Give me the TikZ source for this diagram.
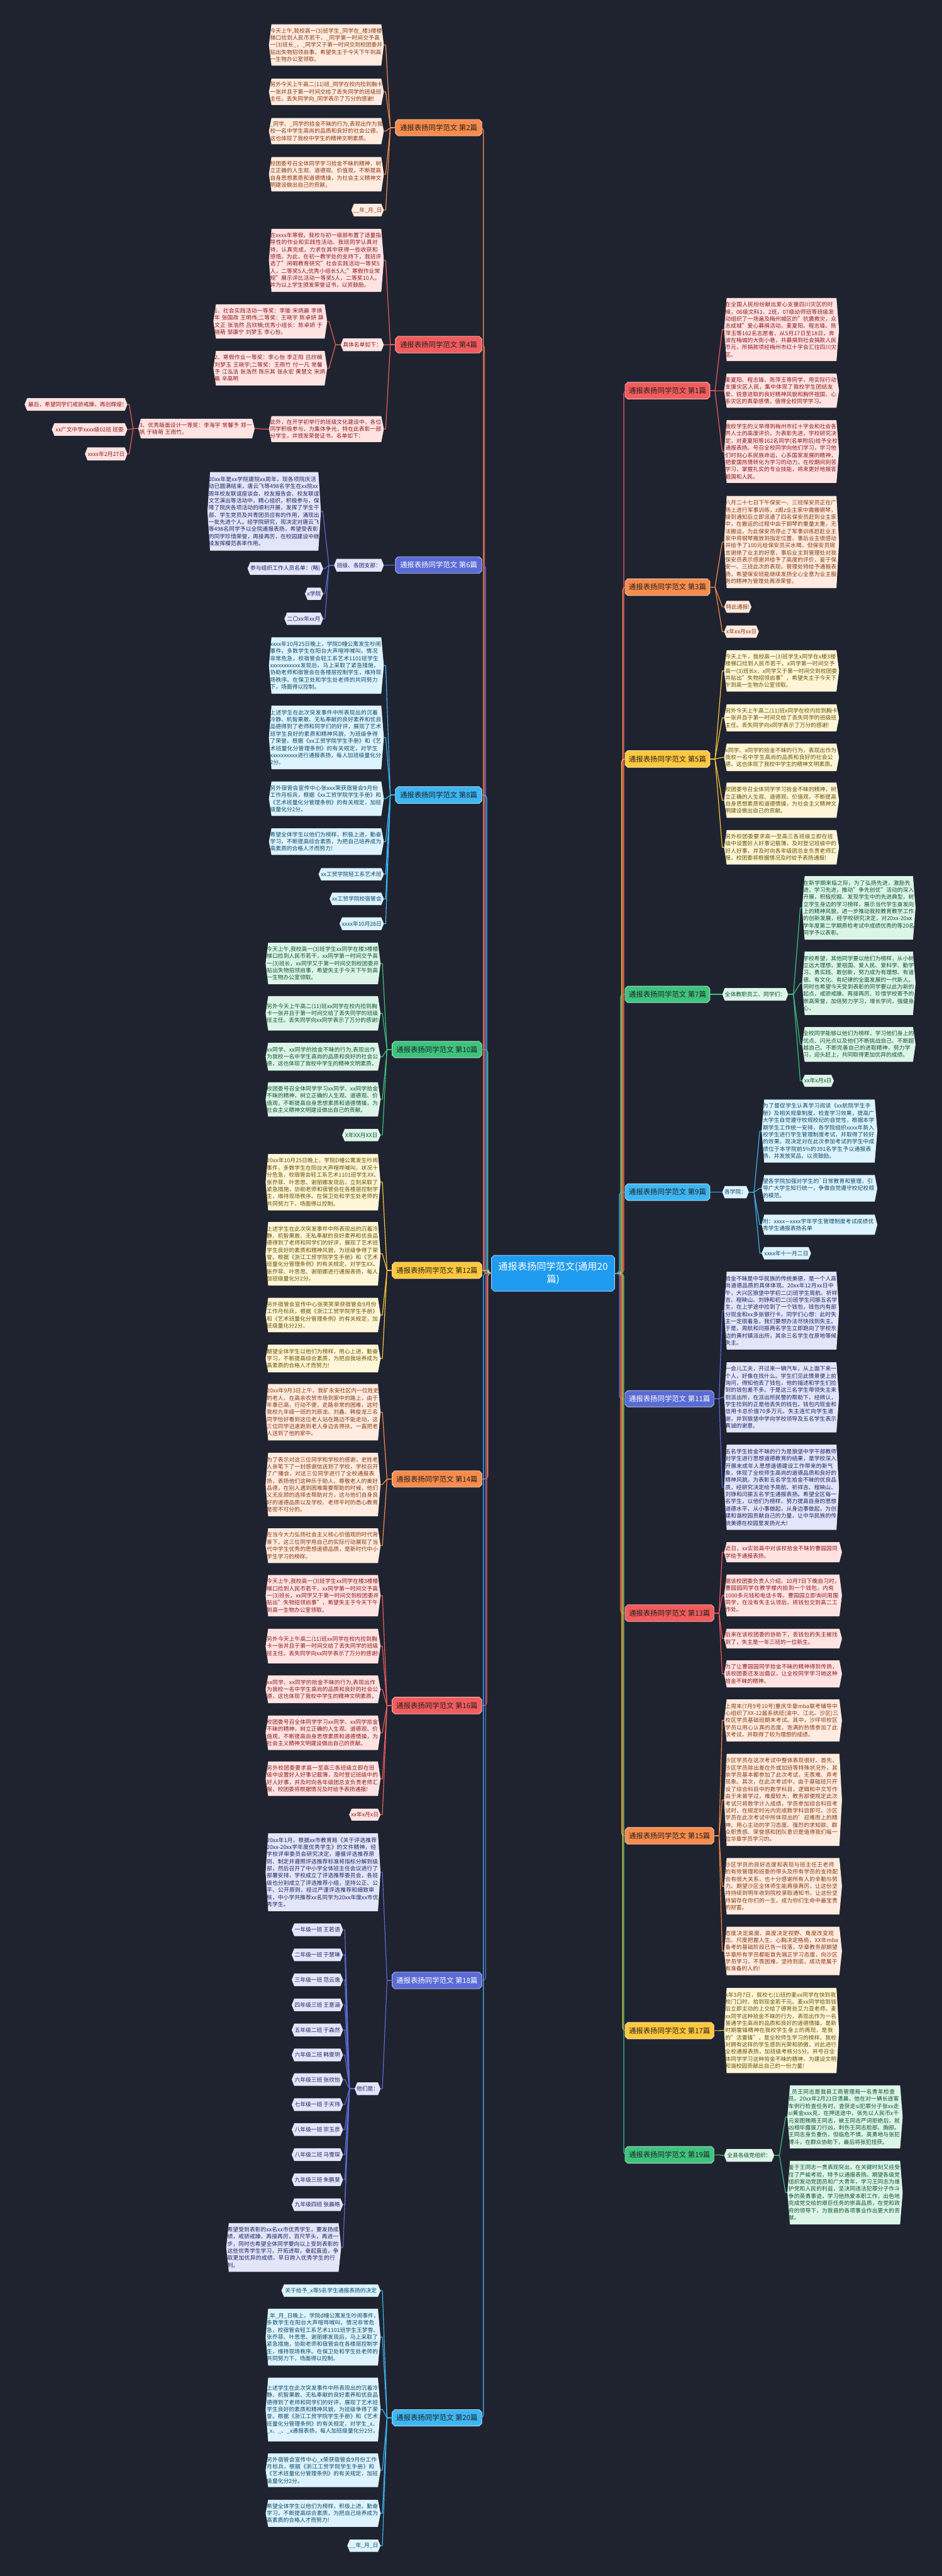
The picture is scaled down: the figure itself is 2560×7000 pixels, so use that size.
\documentclass[tikz,border=0pt]{standalone}
\usepackage{fontspec}
\setmainfont{Noto Sans CJK SC}
\XeTeXlinebreaklocale "zh"
\XeTeXlinebreakskip=0pt plus 1pt
\pgfdeclarelayer{bgl}
\pgfsetlayers{bgl,main}
\definecolor{bgc}{HTML}{1F2330}
\definecolor{Rmain}{HTML}{F25C5C}\definecolor{Rfill}{HTML}{FFE3E3}\definecolor{Rtext}{HTML}{8E1B1B}
\definecolor{Omain}{HTML}{F78C4C}\definecolor{Ofill}{HTML}{FFEBDF}\definecolor{Otext}{HTML}{8A3A12}
\definecolor{Ymain}{HTML}{FFC83D}\definecolor{Yfill}{HTML}{FFF6D8}\definecolor{Ytext}{HTML}{6A5100}
\definecolor{Imain}{HTML}{5A6BD5}\definecolor{Ifill}{HTML}{E3E6F8}\definecolor{Itext}{HTML}{1D2566}
\definecolor{Smain}{HTML}{3DB6F2}\definecolor{Sfill}{HTML}{DDF3FD}\definecolor{Stext}{HTML}{0C4A6B}
\definecolor{Gmain}{HTML}{3DC37E}\definecolor{Gfill}{HTML}{DDF5E8}\definecolor{Gtext}{HTML}{0E5430}
\definecolor{Cmain}{HTML}{1F9BF0}
\definecolor{btext}{HTML}{222222}
\newcommand\leaffont{\fontsize{15}{19.4}\selectfont}
\newcommand\brfont{\fontsize{19.5}{24}\selectfont}
\newcommand\cfont{\fontsize{26}{34}\selectfont}
\newcommand\hexfill[2]{\begin{pgfonlayer}{bgl}\fill[#2] ([xshift=7pt]#1.north west) -- ([xshift=-7pt]#1.north east) -- (#1.east) -- ([xshift=-7pt]#1.south east) -- ([xshift=7pt]#1.south west) -- (#1.west) -- cycle;\end{pgfonlayer}}
\newcommand\octfill[2]{\begin{pgfonlayer}{bgl}\filldraw[fill=#2,draw=white!55!#2,line width=1.5pt] ([xshift=7pt]#1.north west) -- ([xshift=-7pt]#1.north east) -- ([yshift=-7pt]#1.north east) -- ([yshift=7pt]#1.south east) -- ([xshift=-7pt]#1.south east) -- ([xshift=7pt]#1.south west) -- ([yshift=7pt]#1.south west) -- ([yshift=-7pt]#1.north west) -- cycle;\end{pgfonlayer}}
\newcommand\lf[7]{%
 \pgfmathsetmacro\lfx{(#2+#4)/2}\pgfmathsetmacro\lfy{(#3+#5)/2}%
 \pgfmathsetmacro\lfh{#5-#3}\pgfmathsetmacro\lftw{#4-#2-6}%
 \node[leaf,text=#6text,text width=\lftw pt,minimum height=\lfh pt] (#1) at (\lfx,\lfy) {#7};%
 \hexfill{#1}{#6fill}}
\newcommand\sn[7]{%
 \pgfmathsetmacro\lfx{(#2+#4)/2}\pgfmathsetmacro\lfy{(#3+#5)/2}%
 \pgfmathsetmacro\lfh{#5-#3}\pgfmathsetmacro\lfw{#4-#2}%
 \node[sleaf,text=#6text,minimum width=\lfw pt,minimum height=\lfh pt] (#1) at (\lfx,\lfy) {#7};%
 \hexfill{#1}{#6fill}}
\newcommand\br[8]{%
 \pgfmathsetmacro\lfx{(#2+#4)/2}\pgfmathsetmacro\lfy{(#3+#5)/2}%
 \pgfmathsetmacro\lfh{#5-#3}\pgfmathsetmacro\lfw{#4-#2}%
 \node[brn,text=#7,minimum width=\lfw pt,minimum height=\lfh pt] (#1) at (\lfx,\lfy) {#8};%
 \octfill{#1}{#6main}}
\newcommand\conL[3]{\draw[line width=2pt,draw=#3main,line join=round] (#1.west) -- ++(-14,0) -- ([xshift=5pt]#2.east) -- (#2.east);}
\newcommand\conR[3]{\draw[line width=2pt,draw=#3main,line join=round] (#1.east) -- ++(14,0) -- ([xshift=-5pt]#2.west) -- (#2.west);}
\newcommand\trL[3]{\draw[line width=2pt,draw=#3main,rounded corners=8pt] (C.west) -- ++(-#2,0) |- (#1.east);}
\newcommand\trR[3]{\draw[line width=2pt,draw=#3main,rounded corners=8pt] (C.east) -- ++(#2,0) |- (#1.west);}
\begin{document}
\begin{tikzpicture}[x=1pt,y=-1pt,
  leaf/.style={inner xsep=3pt,inner ysep=3pt,font=\leaffont,align=left},
  sleaf/.style={inner xsep=3pt,inner ysep=3pt,font=\leaffont,align=center},
  brn/.style={inner sep=4pt,font=\brfont,align=center}]
\begin{pgfonlayer}{bgl}\fill[bgc] (0,0) rectangle (2560,7000);\end{pgfonlayer}
\useasboundingbox (0,0) rectangle (2560,7000);

% ---------- center ----------
\node[brn,font=\cfont,text=white,minimum width=334pt,minimum height=97pt] (C) at (1503,3460) {通报表扬同学范文(通用20\\篇)};
\octfill{C}{Cmain}

% ---------- branches left ----------
\br{B2}{1075}{325}{1309}{369}{O}{btext}{通报表扬同学范文 第2篇}
\br{B4}{1075}{914}{1309}{959}{R}{btext}{通报表扬同学范文 第4篇}
\br{B6}{1075}{1513}{1309}{1558}{I}{white}{通报表扬同学范文 第6篇}
\br{B8}{1075}{2138}{1309}{2183}{S}{btext}{通报表扬同学范文 第8篇}
\br{B10}{1066}{2830}{1309}{2874}{G}{btext}{通报表扬同学范文 第10篇}
\br{B12}{1066}{3430}{1309}{3474}{Y}{btext}{通报表扬同学范文 第12篇}
\br{B14}{1066}{3997}{1309}{4041}{O}{btext}{通报表扬同学范文 第14篇}
\br{B16}{1066}{4612}{1309}{4657}{R}{btext}{通报表扬同学范文 第16篇}
\br{B18}{1066}{5359}{1309}{5404}{I}{white}{通报表扬同学范文 第18篇}
\br{B20}{1066}{6548}{1309}{6592}{S}{btext}{通报表扬同学范文 第20篇}
% ---------- branches right ----------
\br{B1}{1699}{1039}{1929}{1084}{R}{btext}{通报表扬同学范文 第1篇}
\br{B3}{1699}{1573}{1929}{1618}{O}{btext}{通报表扬同学范文 第3篇}
\br{B5}{1699}{2040}{1929}{2085}{Y}{btext}{通报表扬同学范文 第5篇}
\br{B7}{1699}{2680}{1929}{2724}{G}{btext}{通报表扬同学范文 第7篇}
\br{B9}{1699}{3217}{1929}{3262}{S}{btext}{通报表扬同学范文 第9篇}
\br{B11}{1699}{3779}{1940}{3823}{I}{white}{通报表扬同学范文 第11篇}
\br{B13}{1699}{4361}{1940}{4406}{R}{btext}{通报表扬同学范文 第13篇}
\br{B15}{1699}{4966}{1940}{5011}{O}{btext}{通报表扬同学范文 第15篇}
\br{B17}{1699}{5496}{1940}{5540}{Y}{btext}{通报表扬同学范文 第17篇}
\br{B19}{1699}{5833}{1940}{5878}{G}{btext}{通报表扬同学范文 第19篇}

% ---------- trunk ----------
\trL{B2}{22}{O}\trL{B4}{19}{R}\trL{B6}{16}{I}\trL{B8}{13}{S}\trL{B10}{10}{G}
\trL{B12}{8}{Y}\trL{B14}{10}{O}\trL{B16}{13}{R}\trL{B18}{16}{I}\trL{B20}{22}{S}
\trR{B1}{25}{R}\trR{B3}{22}{O}\trR{B5}{19}{Y}\trR{B7}{16}{G}\trR{B9}{13}{S}
\trR{B11}{13}{I}\trR{B13}{16}{R}\trR{B15}{19}{O}\trR{B17}{22}{Y}\trR{B19}{25}{G}

% ---------- 第2篇 ----------
\lf{L2a}{731}{66}{1043}{178}{O}{今天上午,我校高一(3)班学生\_同学在\_楼3楼楼梯口捡到人民币若干，\_同学第一时间交予高一(3)班长\_，\_同学又于第一时间交到校团委并贴出失物招领启事，希望失主于今天下午到高一生物办公室领取。}
\lf{L2b}{731}{214}{1043}{285}{O}{另外今天上午高二(11)班\_同学在校内捡到胸卡一张并且于第一时间交给了丢失同学的班级班主任。丢失同学向\_同学表示了万分的感谢!}
\lf{L2c}{731}{321}{1043}{392}{O}{\_同学、\_同学的拾金不昧的行为,表现出作为我校一名中学生高尚的品质和良好的社会公德，这也体现了我校中学生的精神文明素质。}
\lf{L2d}{731}{427}{1043}{520}{O}{校团委号召全体同学学习拾金不昧的精神，树立正确的人生观、道德观、价值观，不断提高自身思想素质和道德情操，为社会主义精神文明建设做出自己的贡献。}
\sn{L2e}{955}{554}{1043}{588}{O}{\_\_年\_月\_日}
\foreach \q in {L2a,L2b,L2c,L2d,L2e} {\conL{B2}{\q}{O}}

% ---------- 第4篇 ----------
\lf{L4a}{731}{622}{1043}{793}{R}{在xxxx年寒假，我校与初一级部布置了适量指导性的作业和实践性活动。我班同学认真对待，认真完成，力求在其中获得一些收获和感悟。为此，在初一教学处的支持下，我班评选了"闲暇教育研究"社会实践活动一等奖5人，二等奖5人;优秀小组长5人;"寒假作业常规"展示评比活动一等奖5人，二等奖10人。并为以上学生颁发荣誉证书，以资鼓励。}
\sn{L4b}{926}{920}{1043}{954}{R}{具体名单如下：}
\lf{L4b1}{580}{827}{889}{920}{R}{1、社会实践活动一等奖：李璇 宋炳晨 李焕年 张国政 王明伟;二等奖：王晓宇 陈卓妍 薛文正 张浩然 吕欣楠;优秀小组长：陈卓妍 于晓萌 邹康宁 刘梦玉 李心怡。}
\lf{L4b2}{580}{954}{889}{1047}{R}{2、寒假作业一等奖：李心怡 李正阳 吕欣楠 刘梦玉 王晓宇;二等奖：王雨竹 付一凡 常馨予 江泓洁 张浩然 陈乐其 张永宏 黄慧文 宋炳晨 辛高明}
\lf{L4c}{731}{1131}{1043}{1201}{R}{此外，在开学初举行的班级文化建设中，各位同学积极参与，为集体争光，特在此表彰一部分学生，并颁发荣誉证书，名单如下：}
\lf{L4c1}{376}{1138}{692}{1191}{R}{3、优秀版面设计一等奖：李海宇 常馨予 郑一帆 于晓萌 王雨竹。}
\sn{L4c1a}{67}{1082}{346}{1116}{R}{最后，希望同学们戒骄戒躁，再创辉煌!}
\sn{L4c1b}{141}{1150}{346}{1184}{R}{xx广文中学xxxx级02班 班委}
\sn{L4c1c}{231}{1216}{346}{1251}{R}{xxxx年2月27日}
\foreach \q in {L4a,L4b,L4c} {\conL{B4}{\q}{R}}
\foreach \q in {L4b1,L4b2} {\conL{L4b}{\q}{R}}
\conL{L4c}{L4c1}{R}
\foreach \q in {L4c1a,L4c1b,L4c1c} {\conL{L4c1}{\q}{R}}

% ---------- 第6篇 ----------
\sn{L6}{908}{1519}{1043}{1553}{I}{班级、各团支部：}
\lf{L6a}{564}{1283}{872}{1496}{I}{20xx年是xx学院建院xx周年，现各项院庆活动已圆满结束，唐云飞等498名学生在xx院xx周年校友联谊座谈会、校友报告会、校友联谊文艺演出等活动中，精心组织，积极参与，保障了院庆各项活动的顺利开展，发挥了学生干部、学生党员及共青团员应有的作用，涌现出一批先进个人。经学院研究，现决定对唐云飞等498名同学予以全院通报表扬，希望受表彰的同学珍惜荣誉，再接再厉，在校园建设中继续发挥模范表率作用。}
\sn{L6b}{673}{1528}{878}{1562}{I}{参与组织工作人员名单：(略)}
\sn{L6c}{829}{1597}{878}{1630}{I}{x学院}
\sn{L6d}{773}{1665}{878}{1698}{I}{二〇xx年xx月}
\conL{B6}{L6}{I}
\foreach \q in {L6a,L6b,L6c,L6d} {\conL{L6}{\q}{I}}

% ---------- 第8篇 ----------
\lf{L8a}{731}{1732}{1043}{1885}{S}{xxxx年10月25日晚上，学院D幢公寓发生吵闹事件，多数学生在阳台大声喧哗喊叫，情况非常危急，校宿管会轻工系艺术1101班学生xxxxxxxxxxx发现后，马上采取了紧急措施，协助老师和宿管会在各楼层控制学生，维持现场秩序。在保卫处和学生处老师的共同努力下，场面得以控制。}
\lf{L8b}{731}{1918}{1043}{2090}{S}{上述学生在此次突发事件中所表现出的沉着冷静、机智果敢、无私奉献的良好素养和优良品德得到了老师和同学们的好评，展现了艺术班学生良好的素质和精神风貌，为班级争得了荣誉。根据《xx工贸学院学生手册》和《艺术班量化分管理条例》的有关规定，对学生xxxxxxxxxx进行通报表扬，每人加班级量化分2分。}
\lf{L8c}{731}{2124}{1043}{2217}{S}{另外宿管会宣传中心张xxx荣获宿管会9月份工作月标兵，根据《xx工贸学院学生手册》和《艺术班量化分管理条例》的有关规定，加班级量化分2分。}
\lf{L8d}{731}{2251}{1043}{2323}{S}{希望全体学生以他们为榜样，积极上进，勤奋学习，不断提高综合素质，为把自己培养成为高素质的合格人才而努力!}
\sn{L8e}{866}{2359}{1043}{2392}{S}{xx工贸学院轻工系艺术班}
\sn{L8f}{896}{2426}{1043}{2459}{S}{xx工贸学院校宿管会}
\sn{L8g}{923}{2493}{1043}{2527}{S}{xxxx年10月28日}
\foreach \q in {L8a,L8b,L8c,L8d,L8e,L8f,L8g} {\conL{B8}{\q}{S}}

% ---------- 第10篇 ----------
\lf{L10a}{722}{2562}{1034}{2674}{G}{今天上午,我校高一(3)班学生xx同学在楼3楼楼梯口捡到人民币若干，xx同学第一时间交予高一(3)班长，xx同学又于第一时间交到校团委并贴出失物招领启事，希望失主于今天下午到高一生物办公室领取。}
\lf{L10b}{722}{2707}{1034}{2800}{G}{另外今天上午高二(11)班xx同学在校内捡到胸卡一张并且于第一时间交给了丢失同学的班级班主任。丢失同学向xx同学表示了万分的感谢!}
\lf{L10c}{722}{2834}{1034}{2909}{G}{xx同学、xx同学的拾金不昧的行为,表现出作为我校一名中学生高尚的品质和良好的社会公德，这也体现了我校中学生的精神文明素质。}
\lf{L10d}{722}{2941}{1034}{3034}{G}{校团委号召全体同学学习xx同学、xx同学拾金不昧的精神，树立正确的人生观、道德观、价值观，不断提高自身思想素质和道德情操，为社会主义精神文明建设做出自己的贡献。}
\sn{L10e}{930}{3068}{1034}{3101}{G}{X年XX月XX日}
\foreach \q in {L10a,L10b,L10c,L10d,L10e} {\conL{B10}{\q}{G}}

% ---------- 第12篇 ----------
\lf{L12a}{722}{3136}{1034}{3289}{Y}{20xx年10月25日晚上，学院D幢公寓发生吵闹事件，多数学生在阳台大声喧哗喊叫，状况十分危急，校宿管会轻工系艺术1101班学生XX、张乔菲、叶思思、谢丽娜发现后，立刻采取了紧急措施，协助老师和宿管会在各楼层控制学生，维持现场秩序。在保卫处和学生处老师的共同努力下，场面得以控制。}
\lf{L12b}{722}{3321}{1034}{3493}{Y}{上述学生在此次突发事件中所表现出的沉着冷静、机智果敢、无私奉献的良好素养和优良品德得到了老师和同学们的好评，展现了艺术班学生良好的素质和精神风貌，为班级争得了荣誉。根据《浙江工贸学院学生手册》和《艺术班量化分管理条例》的有关规定，对学生XX、张乔菲、叶思思、谢丽娜进行通报表扬，每人加班级量化分2分。}
\lf{L12c}{722}{3527}{1034}{3620}{Y}{另外宿管会宣传中心张笑笑荣获宿管会9月份工作月标兵，根据《浙江工贸学院学生手册》和《艺术班量化分管理条例》的有关规定，加班级量化分2分。}
\lf{L12d}{722}{3654}{1034}{3729}{Y}{期望全体学生以他们为榜样，用心上进，勤奋学习，不断提高综合素质，为把自我培养成为高素质的合格人才而努力!}
\foreach \q in {L12a,L12b,L12c,L12d} {\conL{B12}{\q}{Y}}

% ---------- 第14篇 ----------
\lf{L14a}{722}{3761}{1034}{3914}{O}{20xx年9月3日上午，我矿永安社区内一位姓史的老人，在高余农贸市场到家中的路上，由于年事已高，行动不便，走路非常的困难，这时我校九年级一班的刘辰龙、刘鑫、韩俊龙三名同学恰好看到这位老人站在路边不能走动，这三位同学迅速跑到老人身边去搀扶，一直把老人送到了他的家中。}
\lf{L14b}{722}{3948}{1034}{4120}{O}{为了表示对这三位同学和学校的感谢，史姓老人亲笔下了一封感谢信送到了学校，学校召开了广播会，对这三位同学进行了全校通报表扬，表扬他们这种乐于助人、尊敬老人的美好品德，在别人遇到困难需要帮助的时候，他们义无反顾的选择去帮助对方，这与他们自身良好的道德品质以及学校、老师平时的悉心教育是密不可分的。}
\lf{L14c}{722}{4153}{1034}{4247}{O}{在当今大力弘扬社会主义核心价值观的时代背景下，这三位同学用自己的实际行动展现了当代中学生优秀的思想道德品质，是新时代中小学生学习的榜样。}
\foreach \q in {L14a,L14b,L14c} {\conL{B14}{\q}{O}}

% ---------- 第16篇 ----------
\lf{L16a}{722}{4280}{1034}{4392}{R}{今天上午,我校高一(3)班学生xx同学在楼3楼楼梯口捡到人民币若干，xx同学第一时间交予高一(3)班长，xx同学又于第一时间交到校团委并贴出"失物招领启事"，希望失主于今天下午到高一生物办公室领取。}
\lf{L16b}{722}{4426}{1034}{4520}{R}{另外今天上午高二(11)班xx同学在校内捡到胸卡一张并且于第一时间交给了丢失同学的班级班主任。丢失同学向xx同学表示了万分的感谢!}
\lf{L16c}{722}{4553}{1034}{4628}{R}{xx同学、xx同学的拾金不昧的行为,表现出作为我校一名中学生高尚的品质和良好的社会公德，这也体现了我校中学生的精神文明素质。}
\lf{L16d}{722}{4662}{1034}{4755}{R}{校团委号召全体同学学习xx同学、xx同学拾金不昧的精神，树立正确的人生观、道德观、价值观，不断提高自身思想素质和道德情操，为社会主义精神文明建设做出自己的贡献。}
\lf{L16e}{722}{4787}{1034}{4880}{R}{另外校团委要求高一至高三各班级立即在班级中设置好人好事记载簿，及时登记班级中的好人好事，并及时向各年级团总支负责老师汇报，校团委将根据情况及时给予表扬通报!}
\sn{L16f}{949}{4915}{1034}{4947}{R}{xx年x月x日}
\foreach \q in {L16a,L16b,L16c,L16d,L16e,L16f} {\conL{B16}{\q}{R}}

% ---------- 第18篇 ----------
\lf{L18a}{722}{4982}{1034}{5193}{I}{20xx年1月，根据xx市教育局《关于评选推荐20xx-20xx学年度优秀学生》的文件精神，经学校评审委员会研究决定，遵循评选推荐原则、制定并遵照评选推荐标准将指标分解到级部，然后召开了中小学全体班主任会议进行了部署安排，学校成立了评选推荐委员会，各班级也分别成立了评选推荐小组，坚持公正、公平、公开原则，经过严谨评选推荐和细致审核，中小学共推荐xx名同学为20xx年度xx市优秀学生。}
\sn{L18b}{964}{5659}{1034}{5693}{I}{他们是：}
\sn{N1}{793}{5227}{932}{5261}{I}{一年级一班 王若语}
\sn{N2}{793}{5295}{932}{5329}{I}{二年级一班 于慧琳}
\sn{N3}{793}{5363}{932}{5397}{I}{三年级一班 范云逸}
\sn{N4}{793}{5431}{932}{5465}{I}{四年级三班 王意涵}
\sn{N5}{793}{5499}{932}{5533}{I}{五年级二班 于森然}
\sn{N6}{793}{5567}{932}{5601}{I}{六年级二班 韩雯玥}
\sn{N7}{793}{5634}{932}{5668}{I}{六年级三班 张欣怡}
\sn{N8}{793}{5702}{932}{5736}{I}{七年级一班 于天玮}
\sn{N9}{793}{5770}{932}{5804}{I}{八年级一班 宗玉彦}
\sn{N10}{793}{5838}{932}{5872}{I}{八年级二班 马雪琛}
\sn{N11}{793}{5906}{932}{5940}{I}{九年级三班 朱鹏斐}
\sn{N12}{793}{5974}{932}{6008}{I}{九年级四班 张晨皓}
\lf{L18z}{615}{6041}{927}{6173}{I}{希望受到表彰的xx名xx市优秀学生，要发扬成绩，戒骄戒躁，再接再厉，百尺竿头，再进一步，同时也希望全体同学要向以上受到表彰的这些优秀学生学习，开拓进取，奋起直追，争取更加优异的成绩，早日跨入优秀学生的行列。}
\foreach \q in {L18a,L18b} {\conL{B18}{\q}{I}}
\foreach \q in {N1,N2,N3,N4,N5,N6,N7,N8,N9,N10,N11,N12,L18z} {\conL{L18b}{\q}{I}}

% ---------- 第20篇 ----------
\sn{L20a}{765}{6208}{1034}{6241}{S}{关于给予\_x等5名学生通报表扬的决定}
\lf{L20b}{722}{6274}{1034}{6428}{S}{\_年\_月\_日晚上，学院d幢公寓发生吵闹事件，多数学生在阳台大声喧哗喊叫，情况非常危急，校宿管会轻工系艺术1101班学生王梦雪、张乔菲、叶思思、谢丽娜发现后，马上采取了紧急措施，协助老师和宿管会在各楼层控制学生，维持现场秩序。在保卫处和学生处老师的共同努力下，场面得以控制。}
\lf{L20c}{722}{6461}{1034}{6634}{S}{上述学生在此次突发事件中所表现出的沉着冷静、机智果敢、无私奉献的良好素养和优良品德得到了老师和同学们的好评，展现了艺术班学生良好的素质和精神风貌，为班级争得了荣誉。根据《浙江工贸学院学生手册》和《艺术班量化分管理条例》的有关规定，对学生\_x、\_x、\_、\_x通报表扬，每人加班级量化分2分。}
\lf{L20d}{722}{6667}{1034}{6758}{S}{另外宿管会宣传中心\_x荣获宿管会9月份工作月标兵，根据《浙江工贸学院学生手册》和《艺术班量化分管理条例》的有关规定，加班级量化分2分。}
\lf{L20e}{722}{6793}{1034}{6866}{S}{希望全体学生以他们为榜样，积极上进，勤奋学习，不断提高综合素质，为把自己培养成为高素质的合格人才而努力!}
\sn{L20f}{944}{6901}{1034}{6934}{S}{\_\_年\_月\_日}
\foreach \q in {L20a,L20b,L20c,L20d,L20e,L20f} {\conL{B20}{\q}{S}}

% ---------- 第1篇 ----------
\lf{R1a}{1968}{810}{2280}{981}{R}{在全国人民纷纷献出爱心支援四川灾区的时候，06级文科1、2班，07级幼师班等班级发动组织了一场遍及梅州城区的"抗震救灾，众志成城"爱心募捐活动，麦夏阳、程志锋、陈萍玉等162名志愿者，从5月17日至18日，奔波在梅城的大街小巷，共募捐到社会捐款人民币元，所捐款项经梅州市红十字会汇往四川灾区。}
\lf{R1b}{1968}{1015}{2280}{1108}{R}{麦夏阳、程志锋、陈萍玉等同学，用实际行动支援灾区人民，集中体现了我校学生团结友爱、锐意进取的良好精神风貌和胸怀祖国、心系灾区的真挚感情，值得全校同学学习。}
\lf{R1c}{1968}{1142}{2280}{1312}{R}{我校学生的义举得到梅州市红十字会和社会各界人士的高度评价。为表彰先进，学校研究决定，对麦夏阳等162名同学(名单附后)给予全校通报表扬。号召全校同学向他们学习，学习他们时刻心系民族命运，心系国家发展的精神，把爱国热情转化为学习的动力，在校期间刻苦学习，掌握扎实的专业技能，将来更好地报答祖国和人民。}
\foreach \q in {R1a,R1b,R1c} {\conR{B1}{\q}{R}}

% ---------- 第3篇 ----------
\lf{R3a}{1968}{1348}{2280}{1598}{O}{八月二十七日下午保安一、三班保安员正在广场上进行军事训练，z阁z业主家中需搬钢琴，接到通知后立即派遣了四名保安员赶到业主家中，在搬运的过程中由于钢琴的重量太重，无法搬运，为此保安员停止了军事训练赶赴业主家中将钢琴搬放到指定位置，事后业主很感动并给予了100元给保安员买水喝，但保安员婉言谢绝了业主的好意，事后业主到管理处对我保安员表示感谢并给予了高度的评价，鉴于保安一、三班此次的表现，管理处特给予通报表扬，希望保安班能继续发扬全心全意为业主服务的精神为管理处再添荣誉。}
\sn{R3b}{1968}{1633}{2042}{1665}{O}{特此通报!}
\sn{R3c}{1968}{1700}{2062}{1733}{O}{x年xx月xx日}
\foreach \q in {R3a,R3b,R3c} {\conR{B3}{\q}{O}}

% ---------- 第5篇 ----------
\lf{R5a}{1968}{1767}{2280}{1879}{Y}{今天上午，我校高一(3)班学生x同学在x楼3楼楼梯口捡到人民币若干，x同学第一时间交予高一(3)班长x，x同学又于第一时间交到校团委并贴出"失物招领启事"，希望失主于今天下午到高一生物办公室领取。}
\lf{R5b}{1968}{1914}{2280}{1987}{Y}{另外今天上午高二(11)班x同学在校内捡到胸卡一张并且于第一时间交给了丢失同学的班级班主任。丢失同学向x同学表示了万分的感谢!}
\lf{R5c}{1968}{2021}{2280}{2095}{Y}{x同学、x同学的拾金不昧的行为，表现出作为我校一名中学生高尚的品质和良好的社会公德，这也体现了我校中学生的精神文明素质。}
\lf{R5d}{1968}{2127}{2280}{2222}{Y}{校团委号召全体同学学习拾金不昧的精神，树立正确的人生观、道德观、价值观，不断提高自身思想素质和道德情操，为社会主义精神文明建设做出自己的贡献。}
\lf{R5e}{1968}{2256}{2280}{2349}{Y}{另外校团委要求高一至高三各班级立即在班级中设置好人好事记载簿，及时登记班级中的好人好事，并及时向各年级团总支负责老师汇报，校团委将根据情况及时给予表扬通报!}
\foreach \q in {R5a,R5b,R5c,R5d,R5e} {\conR{B5}{\q}{Y}}

% ---------- 第7篇 ----------
\sn{R7}{1963}{2685}{2142}{2719}{G}{全体教职员工、同学们：}
\lf{R7a}{2180}{2381}{2488}{2553}{G}{在新学期来临之际，为了弘扬先进，激励先进，学习先进，推动"争先创优"活动的深入开展，积极挖掘、发现学生中的先进典型，树立学生身边的学习榜样，展示当代学生奋发向上的精神风貌，进一步推动我校教育教学工作的创新发展，经学校研究决定，对20xx-20xx学年度第二学期质检考试中成绩优秀的等20名同学予以表彰。}
\lf{R7b}{2180}{2586}{2488}{2758}{G}{学校希望，其他同学要以他们为榜样，从小树立远大理想，爱祖国、爱人民、爱科学、勤学习、勇实践、敢创新，努力成为有理想、有道德、有文化、有纪律的全面发展的一代新人。同时也希望今天受到表彰的同学要以此为新的起点，戒骄戒躁、再接再厉、珍惜学校寄予的崇高荣誉，加倍努力学习，增长学问，强健身心，}
\lf{R7c}{2180}{2791}{2488}{2885}{G}{全校同学能够以他们为榜样，学习他们身上的优点、闪光点以及他们不断挑战自己、不断超越自己、不断完善自己的进取精神，努力学习，迎头赶上，共同取得更加优异的成绩。}
\sn{R7d}{2180}{2921}{2266}{2953}{G}{xx年x月x日}
\conR{B7}{R7}{G}
\foreach \q in {R7a,R7b,R7c,R7d} {\conR{R7}{\q}{G}}

% ---------- 第9篇 ----------
\sn{R9}{1963}{3223}{2035}{3256}{S}{各学院：}
\lf{R9a}{2070}{2988}{2384}{3159}{S}{为了督促学生认真学习阅读《xx航院学生手册》及相关规章制度，检查学习效果，提高广大学生自觉遵守校规校纪的自觉性，根据本学期学生工作统一安排，各学院组织xxxx年新入校学生进行学生管理制度考试，并取得了较好的效果。现决定对在此次参加考试的学生中成绩位于本学院前5\%的391名学生予以通报表扬，并发放奖品，以资鼓励。}
\lf{R9b}{2070}{3193}{2384}{3265}{S}{望各学院加强对学生的\textasciigrave 日常教育和管理，引导广大学生知行统一，争做自觉遵守校纪校规的模范。}
\lf{R9c}{2070}{3301}{2384}{3355}{S}{附：xxxx—xxxx学年学生管理制度考试成绩优秀学生通报表扬名单}
\sn{R9d}{2070}{3389}{2204}{3422}{S}{xxxx年十一月二日}
\conR{B9}{R9}{S}
\foreach \q in {R9a,R9b,R9c,R9d} {\conR{R9}{\q}{S}}

% ---------- 第11篇 ----------
\lf{R11a}{1968}{3456}{2280}{3667}{I}{拾金不昧是中华民族的传统美德，是一个人高尚道德品质的具体体现。20xx年12月xx日中午，大兴区狼垡中学初二(2)班学生周航、祈祥吉、程映山、刘铮和初二(3)班学生闫振五名学生，在上学途中捡到了一个钱包，钱包内有部分现金和xx多张银行卡。同学们心想：此时失主一定很着急，我们要想办法尽快找到失主。于是，周航和闫振两名学生立即跑向了学校东边的黄村镇派出所，其余三名学生在原地等候失主。}
\lf{R11b}{1968}{3702}{2280}{3892}{I}{一会儿工夫，开过来一辆汽车，从上面下来一个人，好像在找什么。学生们见此情景便上前询问，得知他丢了钱包，他的描述和学生们捡到的钱包差不多。于是这三名学生带领失主来到派出所，在派出所民警的帮助下，经辨认，学生捡到的正是他丢失的钱包，钱包内现金和信用卡总价值70多万元，失主连忙向学生道谢，并到狼垡中学向学校领导及五名学生表示真诚的谢意。}
\lf{R11c}{1968}{3926}{2280}{4157}{I}{五名学生拾金不昧的行为是狼垡中学干部教师对学生进行思想道德教育的结果，是学校深入开展未成年人思想道德建设工作带来的新气象，体现了全校师生高尚的道德品质和良好的精神风貌。为表彰五名学生拾金不昧的优良品质，经研究决定给予周航、祈祥吉、程映山、刘铮和闫振五名学生通报表扬。希望全区每一名学生，以他们为榜样，努力提高自身的思想道德水平，从小事做起，从身边事做起，为创建和谐校园贡献自己的力量，让中华民族的传统美德在校园里发扬光大!}
\foreach \q in {R11a,R11b,R11c} {\conR{B11}{\q}{I}}

% ---------- 第13篇 ----------
\lf{R13a}{1968}{4191}{2288}{4245}{R}{近日，xx实验高中对该校拾金不昧的曹园园同学给予通报表扬。}
\lf{R13b}{1968}{4279}{2288}{4392}{R}{据该校团委负责人介绍，10月7日下晚自习时，曹园园同学在教学楼内拾到一个钱包，内有1000多元钱和电话卡等。曹园园立即询问周围同学，在没有失主认领后，将钱包交到高二工作处。}
\lf{R13c}{1968}{4426}{2288}{4479}{R}{后来在该校团委的协助下，丢钱包的失主被找到了，失主是一年三班的一位新生。}
\lf{R13d}{1968}{4512}{2288}{4585}{R}{为了让曹园园同学拾金不昧的精神得到传扬，该校团委还发出倡议，让全校同学学习她这种拾金不昧的精神。}
\foreach \q in {R13a,R13b,R13c,R13d} {\conR{B13}{\q}{R}}

% ---------- 第15篇 ----------
\lf{R15a}{1968}{4618}{2288}{4732}{O}{上周末(7月9号10号)重庆华章mba联考辅导中心组织了XX-12届系统班(渝中、江北、沙区)三校区学员基础班期末考试。其中，沙坪坝校区学员以用心认真的态度，饱满的热情参加了此次考试，并取得了较为理想的成绩。}
\lf{R15b}{1968}{4766}{2288}{5016}{O}{沙区学员在这次考试中整体表现很好。首先，沙区学员除出差在外或加班等特殊状况外，其余学员基本都参加了此次考试，无畏难、弃考现象。其次，在此次考试中，由于基础班只开设了综合科目中的数学科目，逻辑和中文写作由于未曾学过，难度较大，教务部便规定此次考试只将数学计入成绩，学员参加综合科目考试时，在规定时光内完成数学科目即可。沙区学员在此次考试中所体现出的'迎难而上的精神、用心主动的学习态度、强烈的求知欲、群众职责感、荣誉感和团队意识是值得我们每一位华章学员学习的。}
\lf{R15c}{1968}{5049}{2288}{5202}{O}{沙区学员的良好态度和表现与班主任王老师的有效管理和班委的带头及所有学员的支持配合有很大关系，也十分感谢所有人的辛勤与努力。期望沙区全体师生能再接再厉，让这份坚持持续到明年收到院校录取通知书，让这份坚持留存在你们的一生，成为你们生命中最宝贵的财富。}
\lf{R15d}{1968}{5236}{2288}{5367}{O}{态度决定高度、高度决定视野、角度改变观念、尺度把握人生、心胸决定格局，XX年mba备考的基础阶段已告一段落，华章教务部期望华章所有学员都能首先端正学习态度，向沙区学员学习，不畏困难，坚持到底，成功是属于有准备的人的!}
\foreach \q in {R15a,R15b,R15c,R15d} {\conR{B15}{\q}{O}}

% ---------- 第17篇 ----------
\lf{R17a}{1968}{5402}{2280}{5633}{Y}{x年3月7日，我校七(1)班的麦xx同学在快到我校门口时，拾到现金若干元。麦xx同学拾到钱后立即主动的上交给了德育处艾力亚老师。麦xx同学这种拾金不昧的行为，表现出作为一名普通学生高尚的品质和良好的道德情操，是新时期雷锋精神在我校学生身上的再现，是我的"活雷锋"，是全校师生学习的榜样。我校对拥有这样的学生感到光荣和骄傲，对此进行全校通报表扬，加班级考核分5分。并号召全体同学学习这种拾金不昧的精神，为建设文明和谐校园贡献出自己的一份力量!}
\conR{B17}{R17a}{Y}

% ---------- 第19篇 ----------
\sn{R19}{1968}{5840}{2104}{5874}{G}{全县各级党组织：}
\lf{R19a}{2140}{5667}{2453}{5838}{G}{\_员王同志是我县工商管理局一名青年检查员。20xx年2月21日清晨，他在对一辆长途客车例行检查任务时，查获走si犯罪分子张xx走si黄金xxx克，在押送途中，张先以人民币x千元妄图贿赂王同志，被王同志严词拒绝后，就凶相毕露拔刀行凶，刺伤王同志脸部、胸部。王同志身负重伤，但临危不惧，英勇地与张犯搏斗，在群众协助下，最后将张犯扭获。}
\lf{R19b}{2140}{5872}{2453}{6044}{G}{鉴于王同志一贯表现突出，在关键时刻又经受住了严峻考验，特予以通报表扬。期望各级党组织发动党团员和广大青年，学习王同志为维护党和人民的利益，坚决同违法犯罪分子作斗争的英勇事迹，学习他热爱本职工作，出色地完成党交给的艰巨任务的崇高品质，在党和政府的领导下，为我县的各项事业作出更大的贡献。}
\conR{B19}{R19}{G}
\foreach \q in {R19a,R19b} {\conR{R19}{\q}{G}}
\end{tikzpicture}
\end{document}
